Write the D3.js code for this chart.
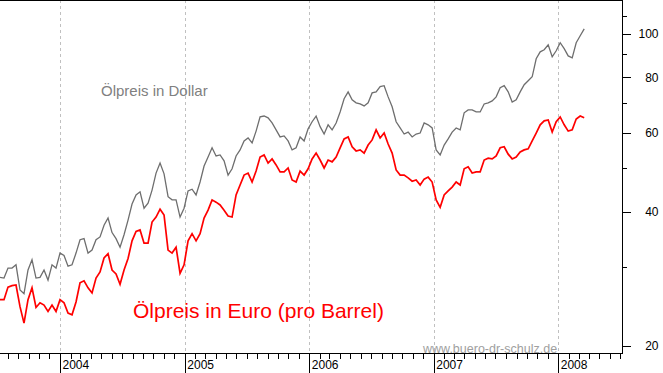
<!DOCTYPE html>
<html>
<head>
<meta charset="utf-8">
<script src="https://cdn.jsdelivr.net/npm/d3@7"></script>
<style>
  html, body { margin: 0; padding: 0; background: #ffffff; }
  svg { display: block; font-family: "Liberation Sans", Arial, sans-serif; }
</style>
</head>
<body>
<svg id="chart" width="663" height="373"></svg>
<script>
// Brent oil price, one reading roughly every 11.7 days
var startDate = new Date(2003, 6, 9);
var stepDays = 11.734;

var dollarPrices = [
  28.5, 28.4, 29.9, 29.9, 30.4, 26.7, 26.2, 29.6, 31.2, 28.4,
  28.5, 29.6, 28.1, 30.4, 29.9, 32.3, 31.9, 30.2, 30.4, 32.3,
  34.6, 34.8, 32.3, 32.8, 34.6, 35.1, 37.3, 38.7, 35.9, 34.8,
  33.3, 35.5, 38.3, 41.6, 43.6, 44.3, 40.7, 41.8, 44.7, 48.8,
  51.4, 48.6, 43.2, 42.5, 42.5, 38.9, 40.7, 44.5, 44.9, 43.6,
  46.6, 50.6, 53.0, 55.6, 53.3, 53.6, 52.0, 48.3, 49.9, 53.3,
  55.0, 57.6, 58.5, 57.0, 60.6, 65.2, 65.5, 64.9, 63.2, 61.0,
  58.8, 59.1, 57.6, 55.0, 55.6, 58.8, 57.6, 61.3, 63.6, 65.5,
  62.0, 59.7, 62.6, 61.0, 63.2, 66.9, 71.6, 74.2, 71.2, 70.1,
  69.7, 69.0, 70.1, 73.8, 74.2, 76.2, 76.6, 72.3, 68.7, 63.6,
  61.6, 59.7, 60.3, 58.8, 59.7, 60.0, 63.2, 62.6, 61.6, 55.0,
  53.6, 56.4, 58.2, 60.3, 61.6, 61.0, 66.6, 67.6, 67.6, 66.9,
  66.9, 69.7, 70.1, 70.8, 72.3, 75.8, 76.6, 74.2, 70.4, 71.2,
  74.2, 77.0, 78.6, 80.2, 88.0, 91.2, 92.2, 94.6, 88.9, 91.7,
  95.6, 92.7, 89.3, 88.4, 95.6, 99.1, 102.7
];

var euroPrices = [
  25.4, 25.4, 27.1, 27.3, 27.4, 24.5, 22.5, 25.4, 27.0, 24.4,
  25.0, 24.7, 23.9, 24.7, 23.9, 25.4, 25.0, 23.7, 23.5, 25.1,
  27.7, 28.0, 27.0, 26.3, 28.4, 29.3, 31.5, 32.2, 29.6, 29.0,
  27.5, 29.6, 31.4, 34.4, 36.1, 36.4, 34.0, 34.0, 37.9, 38.9,
  40.5, 39.3, 32.8, 32.3, 33.3, 29.1, 30.4, 34.4, 35.7, 34.4,
  35.7, 38.7, 40.3, 42.5, 42.0, 41.4, 40.3, 39.1, 38.9, 43.6,
  45.9, 48.3, 48.8, 46.6, 49.3, 53.0, 53.6, 51.4, 52.5, 50.9,
  49.1, 49.1, 50.1, 47.1, 46.6, 49.3, 48.3, 49.9, 52.5, 54.1,
  52.2, 50.1, 52.2, 51.7, 53.0, 55.6, 58.2, 58.8, 55.9, 54.7,
  55.0, 54.1, 56.4, 57.9, 61.0, 58.5, 60.0, 56.7, 54.1, 49.6,
  48.3, 48.3, 47.6, 46.8, 47.1, 45.9, 47.3, 47.8, 46.6, 42.5,
  40.9, 43.6, 44.5, 45.4, 46.6, 45.9, 49.9, 50.4, 48.8, 49.1,
  49.1, 52.2, 52.7, 52.5, 53.3, 55.6, 55.9, 53.8, 52.5, 53.0,
  54.4, 55.0, 55.3, 57.6, 60.0, 62.6, 63.9, 64.2, 60.3, 63.6,
  65.2, 62.6, 60.6, 61.0, 64.5, 65.5, 64.9
];

var yearTicks = [2004, 2005, 2006, 2007, 2008];
var priceLabels = [20, 40, 60, 80, 100];
var priceMinorTicks = [30, 50, 70, 90, 110];

var dollarLabel = "Ölpreis in Dollar";
var euroLabel = "Ölpreis in Euro (pro Barrel)";
var sourceLabel = "www.buero-dr-schulz.de";

// plot box: right axis at x=622, time axis at y=353
var plotRight = 622;
var plotBottom = 353;

var svg = d3.select("#chart");

var x_scale = d3.scaleTime()
  .domain([new Date(2003, 6, 9), new Date(2008, 6, 6)])
  .range([0, plotRight]);
var y_scale = d3.scaleLog().domain([20, 100]).range([346, 34]);

/** Date of the i-th reading. */
var dateAt = function(i) {
  return new Date(startDate.getTime() + i * stepDays * 864e5);
};

var path = d3.line()
  .x(function(d, i) { return x_scale(dateAt(i)); })
  .y(function(d) { return y_scale(d); });

// dashed year lines
svg.append("g")
  .selectAll("line")
  .data(yearTicks)
  .enter()
  .append("line")
  .attr("x1", function(d) { return Math.round(x_scale(new Date(d, 0, 1))) + 0.5; })
  .attr("x2", function(d) { return Math.round(x_scale(new Date(d, 0, 1))) + 0.5; })
  .attr("y1", 0)
  .attr("y2", plotBottom)
  .attr("stroke", "#c0c0c0")
  .attr("stroke-dasharray", "3,3");

// watermark sits on the time axis
svg.append("text")
  .attr("x", 423)
  .attr("y", 353)
  .attr("font-size", "12.5px")
  .attr("fill", "#a0a0a0")
  .text(sourceLabel);

// curves
svg.append("path")
  .datum(dollarPrices)
  .attr("d", path)
  .attr("fill", "none")
  .attr("stroke", "#6e6e6e")
  .attr("stroke-width", 1.3);

svg.append("path")
  .datum(euroPrices)
  .attr("d", path)
  .attr("fill", "none")
  .attr("stroke", "#ff0000")
  .attr("stroke-width", 1.7);

// labels
svg.append("text")
  .attr("x", 101)
  .attr("y", 96)
  .attr("font-size", "15px")
  .attr("fill", "#808080")
  .text(dollarLabel);

svg.append("text")
  .attr("x", 133)
  .attr("y", 318)
  .attr("font-size", "21px")
  .attr("fill", "#ff0000")
  .text(euroLabel);

// frame: top line, time axis, price axis
var frame = svg.append("g").attr("stroke", "#000").attr("shape-rendering", "crispEdges");
frame.append("line").attr("x1", 0).attr("x2", plotRight + 1).attr("y1", 0.5).attr("y2", 0.5);
frame.append("line").attr("x1", 0).attr("x2", plotRight + 1).attr("y1", plotBottom + 0.5).attr("y2", plotBottom + 0.5);
frame.append("line").attr("x1", plotRight + 0.5).attr("x2", plotRight + 0.5).attr("y1", 0).attr("y2", plotBottom + 1);

// month ticks
var monthAxis = d3.axisBottom(x_scale)
  .ticks(d3.timeMonth.every(1))
  .tickSize(5)
  .tickFormat("");
svg.append("g")
  .attr("transform", "translate(0," + (plotBottom + 0.5) + ")")
  .call(monthAxis)
  .call(function(g) { g.select(".domain").remove(); });

// year ticks with labels right of the tick
var yearAxis = d3.axisBottom(x_scale)
  .tickValues(yearTicks.map(function(y) { return new Date(y, 0, 1); }))
  .tickSize(20)
  .tickFormat(d3.timeFormat("%Y"));
svg.append("g")
  .attr("transform", "translate(0," + (plotBottom + 0.5) + ")")
  .call(yearAxis)
  .call(function(g) {
    g.select(".domain").remove();
    g.selectAll("text")
      .attr("text-anchor", "start")
      .attr("x", 2)
      .attr("y", 7)
      .attr("dy", "0.71em")
      .attr("font-size", "12px")
      .attr("font-family", "Liberation Sans, Arial, sans-serif")
      .attr("fill", "#000");
  });

// price axis on the right
var priceAxis = d3.axisRight(y_scale)
  .tickValues(priceLabels)
  .tickSize(8)
  .tickFormat(d3.format("d"));
svg.append("g")
  .attr("transform", "translate(" + (plotRight + 0.5) + ",0)")
  .call(priceAxis)
  .call(function(g) {
    g.select(".domain").remove();
    g.selectAll("text")
      .attr("text-anchor", "end")
      .attr("x", 36)
      .attr("font-size", "12px")
      .attr("font-family", "Liberation Sans, Arial, sans-serif")
      .attr("fill", "#000");
  });

var minorAxis = d3.axisRight(y_scale)
  .tickValues(priceMinorTicks)
  .tickSize(4)
  .tickFormat("");
svg.append("g")
  .attr("transform", "translate(" + (plotRight + 0.5) + ",0)")
  .call(minorAxis)
  .call(function(g) { g.select(".domain").remove(); });

svg.selectAll(".tick line").attr("shape-rendering", "crispEdges");
</script>
</body>
</html>
